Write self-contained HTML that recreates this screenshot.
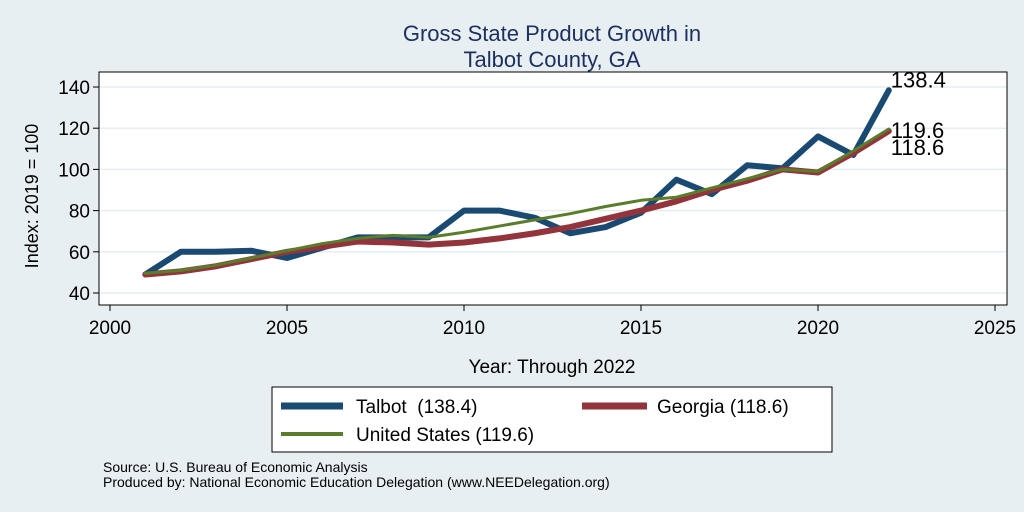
<!DOCTYPE html>
<html><head><meta charset="utf-8"><style>
body{margin:0;background:#e8eff2;}
svg{display:block;font-family:"Liberation Sans",Arial,sans-serif;}
</style></head><body>
<svg width="1024" height="512" viewBox="0 0 1024 512">
<rect x="0" y="0" width="1024" height="512" fill="#e8eff2"/>
<text x="552" y="41" text-anchor="middle" font-size="22" fill="#1c2f5e">Gross State Product Growth in</text>
<text x="552" y="67" text-anchor="middle" font-size="22" fill="#1c2f5e">Talbot County, GA</text>
<rect x="99" y="72" width="908" height="233" fill="#fff" stroke="#000" stroke-width="1"/>
<g id="grid"></g><g id="axes"></g><g id="series"></g>
<text transform="translate(38,196) rotate(-90)" text-anchor="middle" font-size="18">Index: 2019 = 100</text>
<text x="552" y="373" text-anchor="middle" font-size="19">Year: Through 2022</text>
<g>
<rect x="272" y="387" width="560" height="65" fill="#fff" stroke="#000" stroke-width="1"/>
<line x1="281" y1="406" x2="343" y2="406" stroke="#1a4a72" stroke-width="7"/>
<text x="356" y="413" font-size="19" xml:space="preserve">Talbot  (138.4)</text>
<line x1="582" y1="406" x2="647" y2="406" stroke="#93333b" stroke-width="7"/>
<text x="657" y="413" font-size="19">Georgia (118.6)</text>
<line x1="281" y1="434" x2="343" y2="434" stroke="#5a7d2c" stroke-width="4"/>
<text x="356" y="441" font-size="19">United States (119.6)</text>
</g>
<text x="103" y="472" font-size="14">Source: U.S. Bureau of Economic Analysis</text>
<text x="103" y="487" font-size="14">Produced by: National Economic Education Delegation (www.NEEDelegation.org)</text>
</svg>
<script>
const years=[2001,2002,2003,2004,2005,2006,2007,2008,2009,2010,2011,2012,2013,2014,2015,2016,2017,2018,2019,2020,2021,2022];
const talbot=[49,60,60,60.5,57,62,67,67,67,80,80,76.5,69,72,79,95,88,102,100.5,116,107,138.4];
const georgia=[49,50.5,53,56.5,60,62.5,65,64.5,63.5,64.5,66.5,69,72,76,80,84.5,90,94.5,100,98.5,108,118.6];
const us=[49.5,51,53.5,57,60.5,64,66.5,68,67,69.5,72.5,75.5,78.5,82,85,86.5,91,95.5,100,99,109,119.6];
const xTicks=[2000,2005,2010,2015,2020,2025];
const yTicks=[40,60,80,100,120,140];
const NS="http://www.w3.org/2000/svg";
const xs=v=>110+(v-2000)*35.4;
const ys=v=>293-(v-40)*2.06;
function mk(t,a,p){const e=document.createElementNS(NS,t);for(const k in a)e.setAttribute(k,a[k]);p.appendChild(e);return e;}
const grid=document.getElementById('grid'),axes=document.getElementById('axes'),ser=document.getElementById('series');
yTicks.forEach(v=>{
 const g=mk('line',{x1:100,x2:1006,y1:ys(v),y2:ys(v),stroke:'#e6edf0','stroke-width':1.5},grid);
 
 
 const t=mk('line',{x1:93,x2:99,y1:ys(v),y2:ys(v),stroke:'#000'},axes);
 
 
 const l=mk('text',{x:90,y:ys(v)+7,'text-anchor':'end','font-size':19},axes);l.textContent=v;
 
 
});
xTicks.forEach(v=>{
 const t=mk('line',{x1:xs(v),x2:xs(v),y1:305,y2:311,stroke:'#000'},axes);
 
 
 const l=mk('text',{x:xs(v),y:334,'text-anchor':'middle','font-size':19},axes);l.textContent=v;
 
 
});
function line(vals,color,w,name){
 const p=mk('polyline',{points:vals.map((v,i)=>xs(years[i])+','+ys(v)).join(' '),fill:'none',stroke:color,'stroke-width':w,'stroke-linejoin':'round','stroke-linecap':'round'},ser);
 
 
}
line(talbot,'#1a4a72',6,'series-talbot');
line(georgia,'#93333b',6,'series-georgia');
line(us,'#5a7d2c',3,'series-us');
const n=years.length-1;
[[talbot[n],ys(talbot[n])-3,'label-talbot-end'],[us[n],ys(us[n])+9,'label-us-end'],[georgia[n],ys(georgia[n])+24,'label-georgia-end']].forEach(([v,y,nm])=>{
 const l=mk('text',{x:xs(years[n])+2,y:y,'font-size':22},ser);l.textContent=v.toFixed(1);
 
 
});
</script>
</body></html>
